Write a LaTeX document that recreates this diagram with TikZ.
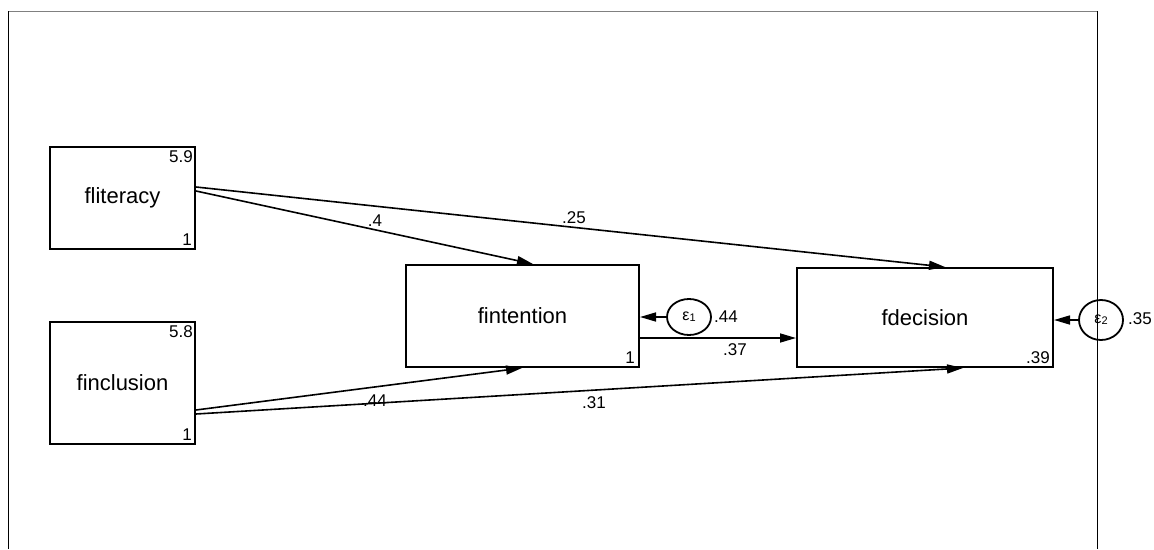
\documentclass[tikz,border=0pt]{standalone}
\usepackage{fontspec}
\setmainfont{Liberation Sans}
\usetikzlibrary{arrows.meta,shapes.geometric,calc}
\begin{document}
\begin{tikzpicture}[x=1pt,y=1pt,
  varbox/.style={draw, line width=2pt, rectangle, inner sep=0pt, font=\fontsize{22}{26}\selectfont},
  errnode/.style={draw, line width=1.8pt, ellipse, inner sep=0pt, font=\fontsize{16}{18}\selectfont},
  path/.style={line width=1.6pt, -{Triangle[length=16pt,width=9pt]}},
  coef/.style={font=\fontsize{17}{20}\selectfont, inner sep=0pt},
  frame/.style={line width=1pt}
]
\useasboundingbox (0,0) rectangle (1154,-549);
% frame
\draw[frame, gray] (8,-11) -- (1097,-11);
\draw[frame] (8,-11) -- (8,-549);
\draw[frame] (1097,-11) -- (1097,-549);

% variables
\node[varbox, minimum width=145pt, minimum height=102pt] (lit) at (122.5,-198) {fliteracy};
\node[varbox, minimum width=145pt, minimum height=122pt] (inc) at (122.5,-383) {finclusion};
\node[varbox, minimum width=233pt, minimum height=102pt] (int) at (522.5,-316) {fintention};
\node[varbox, minimum width=256pt, minimum height=99pt] (dec) at (925,-317.5) {fdecision};
\node[errnode, minimum width=44pt, minimum height=36pt] (e1) at (689,-317) {ε\raisebox{-1pt}{\fontsize{11}{12}\selectfont 1}};
\node[errnode, minimum width=44pt, minimum height=40pt] (e2) at (1101,-320) {ε\raisebox{-1pt}{\fontsize{11}{12}\selectfont 2}};

% paths
\draw[path] ([yshift=7pt]lit.east) -- ([xshift=10.5pt]int.north);
\draw[path] ([yshift=11pt]lit.east) -- ([xshift=20pt]dec.north);
\draw[path] ([yshift=-27pt]inc.east) -- ([xshift=-0.5pt]int.south);
\draw[path] ([yshift=-31pt]inc.east) -- ([xshift=38pt]dec.south);
\draw[path] (e1.west) -- (e1.west -| int.east);
\draw[path] ([yshift=-22pt]int.east) -- ([yshift=-22pt]int.east -| dec.west);
\draw[path] (e2.west) -- (e2.west -| dec.east);

% coefficients
\node[coef] (c1) at (375,-221) {.4};
\node[coef] (c2) at (574,-218) {.25};
\node[coef] (c3) at (375,-401) {.44};
\node[coef] (c4) at (594,-403) {.31};
\node[coef] (c5) at (735,-350) {.37};
\node[coef, anchor=west] (c6) at (714,-317) {.44};
\node[coef, anchor=west] (c7) at (1128,-319) {.35};

% intercepts / variances
\node[coef, anchor=north east] (l1) at ([xshift=-3pt,yshift=-4pt]lit.north east) {5.9};
\node[coef, anchor=south east] (l2) at ([xshift=-4pt,yshift=4pt]lit.south east) {1};
\node[coef, anchor=north east] (i1) at ([xshift=-3pt,yshift=-4pt]inc.north east) {5.8};
\node[coef, anchor=south east] (i2) at ([xshift=-4pt,yshift=4pt]inc.south east) {1};
\node[coef, anchor=south east] (t1) at ([xshift=-5pt,yshift=4pt]int.south east) {1};
\node[coef, anchor=south east] (d1) at ([xshift=-4pt,yshift=4pt]dec.south east) {.39};
\end{tikzpicture}
\end{document}
